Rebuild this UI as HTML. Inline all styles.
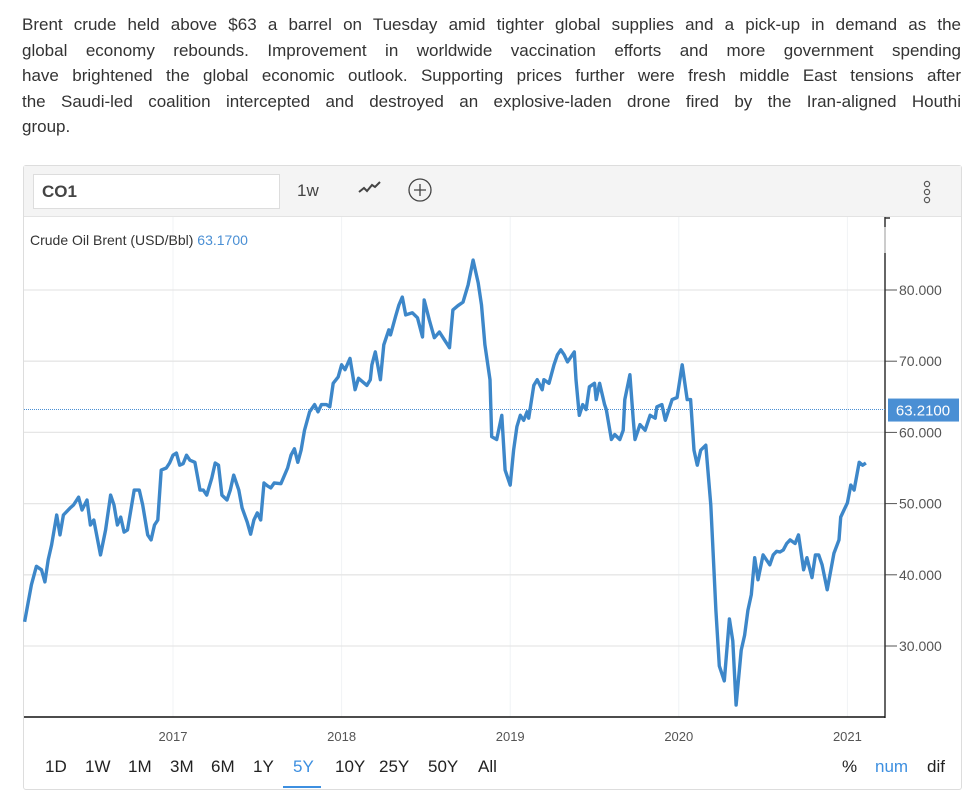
<!DOCTYPE html>
<html><head><meta charset="utf-8"><style>
body{margin:0;background:#fff;font-family:"Liberation Sans",sans-serif;width:977px;height:793px;overflow:hidden;position:relative}
#intro{position:absolute;left:22px;top:12px;width:939px;font-size:17px;line-height:25.5px;color:#333}
#intro div{text-align:justify;text-align-last:justify;white-space:nowrap}
#intro div:last-child{text-align-last:left}
#card{position:absolute;left:23px;top:165px;width:937px;height:623px;border:1px solid #ddd;border-radius:3px}
#toolbar{position:absolute;left:0;top:0;width:937px;height:50px;background:#f4f4f4;border-bottom:1px solid #e3e3e3}
#sym{position:absolute;left:9px;top:8px;width:247px;height:35px;box-sizing:border-box;background:#fff;border:1px solid #ddd;font-size:17px;font-weight:bold;color:#444;line-height:33px;padding-left:8px}
.tb{position:absolute;top:15px;font-size:17px;color:#444}
.rg{position:absolute;top:591px;font-size:17px;color:#222}
svg{position:absolute;left:0;top:0}
</style></head><body>
<div id="intro"><div>Brent crude held above $63 a barrel on Tuesday amid tighter global supplies and a pick-up in demand as the</div><div>global economy rebounds. Improvement in worldwide vaccination efforts and more government spending</div><div>have brightened the global economic outlook. Supporting prices further were fresh middle East tensions after</div><div>the Saudi-led coalition intercepted and destroyed an explosive-laden drone fired by the Iran-aligned Houthi</div><div>group.</div></div>
<div id="card">
<div id="toolbar">
<div id="sym">CO1</div>
<div class="tb" style="left:273px">1w</div>
<div class="tb" style="left:333px;top:12px"><svg width="26" height="20" style="position:static"><polyline points="2,14 7,10 10,13 15,7 18,9 23,4" fill="none" stroke="#444" stroke-width="2"/></svg></div>
<div class="tb" style="left:384px;top:12px"><svg width="26" height="26" style="position:static"><circle cx="12" cy="12" r="11" fill="none" stroke="#444" stroke-width="1.3"/><path d="M12 6v12M6 12h12" stroke="#444" stroke-width="1.3"/></svg></div>
<div class="tb" style="left:898px;top:14px"><svg width="10" height="26" style="position:static"><circle cx="5" cy="4" r="2.6" fill="none" stroke="#555" stroke-width="1.2"/><circle cx="5" cy="12" r="2.6" fill="none" stroke="#555" stroke-width="1.2"/><circle cx="5" cy="20" r="2.6" fill="none" stroke="#555" stroke-width="1.2"/></svg></div>
</div>
<span class="rg" style="left:21px">1D</span>
<span class="rg" style="left:61px">1W</span>
<span class="rg" style="left:104px">1M</span>
<span class="rg" style="left:146px">3M</span>
<span class="rg" style="left:187px">6M</span>
<span class="rg" style="left:229px">1Y</span>
<span class="rg" style="left:269px;color:#3d8fe0">5Y</span>
<div style="position:absolute;left:259px;top:620px;width:38px;height:2px;background:#3d8fe0"></div>
<span class="rg" style="left:311px">10Y</span>
<span class="rg" style="left:355px">25Y</span>
<span class="rg" style="left:404px">50Y</span>
<span class="rg" style="left:454px">All</span>
<span class="rg" style="left:818px">%</span>
<span class="rg" style="left:851px;color:#3d8fe0">num</span>
<span class="rg" style="left:903px">dif</span>
</div>
<svg id="chart" width="977" height="793"></svg>
<script>
const years=[2016.12,2016.16,2016.19,2016.22,2016.24,2016.26,2016.28,2016.31,2016.33,2016.35,2016.39,2016.41,2016.44,2016.46,2016.49,2016.51,2016.53,2016.57,2016.6,2016.63,2016.65,2016.67,2016.69,2016.71,2016.73,2016.77,2016.8,2016.82,2016.85,2016.87,2016.89,2016.91,2016.93,2016.96,2016.98,2017.0,2017.02,2017.04,2017.06,2017.08,2017.1,2017.13,2017.16,2017.18,2017.2,2017.23,2017.25,2017.27,2017.29,2017.32,2017.34,2017.36,2017.39,2017.41,2017.44,2017.46,2017.48,2017.5,2017.52,2017.54,2017.56,2017.58,2017.6,2017.64,2017.68,2017.7,2017.72,2017.74,2017.76,2017.78,2017.81,2017.84,2017.86,2017.88,2017.91,2017.93,2017.95,2017.98,2018.0,2018.02,2018.05,2018.08,2018.1,2018.15,2018.17,2018.18,2018.2,2018.23,2018.25,2018.28,2018.29,2018.32,2018.34,2018.36,2018.38,2018.42,2018.45,2018.48,2018.49,2018.52,2018.55,2018.58,2018.61,2018.64,2018.66,2018.69,2018.72,2018.75,2018.78,2018.81,2018.83,2018.85,2018.88,2018.89,2018.92,2018.95,2018.97,2019.0,2019.02,2019.04,2019.06,2019.08,2019.1,2019.11,2019.14,2019.16,2019.19,2019.2,2019.23,2019.26,2019.28,2019.3,2019.32,2019.34,2019.38,2019.39,2019.41,2019.43,2019.45,2019.47,2019.5,2019.51,2019.53,2019.56,2019.57,2019.6,2019.62,2019.65,2019.67,2019.68,2019.71,2019.73,2019.74,2019.77,2019.8,2019.83,2019.86,2019.87,2019.9,2019.92,2019.96,2019.99,2020.02,2020.05,2020.07,2020.09,2020.11,2020.13,2020.16,2020.19,2020.2,2020.22,2020.24,2020.27,2020.3,2020.32,2020.34,2020.37,2020.39,2020.41,2020.43,2020.45,2020.47,2020.5,2020.54,2020.56,2020.58,2020.6,2020.62,2020.64,2020.66,2020.69,2020.71,2020.74,2020.76,2020.79,2020.81,2020.83,2020.85,2020.88,2020.9,2020.92,2020.95,2020.96,2020.98,2021.0,2021.02,2021.04,2021.07,2021.09,2021.11];
const prices=[33.4,38.6,41.2,40.7,39.0,42.1,44.2,48.4,45.6,48.4,49.4,49.8,50.9,49.1,50.5,47,47.7,42.8,46.3,51.2,49.8,47,48.1,46,46.3,51.9,51.9,49.8,45.6,44.9,47,47.7,54.7,55,55.7,56.8,57.1,55.4,55.6,56.8,56.1,55.8,51.9,51.9,51.2,53.6,55.7,55.4,51.2,50.5,51.9,54,51.9,49.4,47.4,45.7,47.7,48.7,47.7,52.9,52.5,52.2,52.9,52.8,55,56.8,57.7,55.8,57.5,60.3,62.9,63.9,62.9,63.9,63.9,63.6,66.9,67.8,69.5,68.8,70.4,66,67.6,66.6,67.4,69.5,71.3,67.4,72.3,74.4,73.7,76.3,77.9,79,76.5,76.8,76.1,73.4,78.6,75.8,73.3,74.1,73,71.9,77.2,77.8,78.3,80.7,84.2,81,77.9,72.3,67.4,59.4,59,62.4,54.7,52.6,57.5,60.8,62.4,61.7,62.9,62,66.6,67.4,66,67.4,66.9,69.5,70.9,71.6,70.9,69.9,71.3,67.4,62.4,63.9,63.2,66.4,66.9,64.6,66.9,63.9,63.2,59,59.7,59,60.3,64.6,68.1,61.7,59,61.1,60.3,62.4,62,63.6,63.9,61.7,64.6,64.9,69.5,64.6,64.6,57.5,55.4,57.5,58.2,49.8,44.9,35,27.2,25.1,33.8,30.7,21.7,29.4,31.5,35,37.2,42.4,39.3,42.8,41.4,42.8,43.3,43.2,43.5,44.4,44.9,44.4,45.6,40.7,42.4,39.6,42.8,42.8,41.4,37.9,40.4,43,44.9,48.1,49.1,50.1,52.6,51.9,55.8,55.4,55.7,55.1,60.3,62.6,63.2];
const yTicks=[30,40,50,60,70,80];
const yTickLabels=["30.000","40.000","50.000","60.000","70.000","80.000"];
const xTicks=[2017,2018,2019,2020,2021];
const lastValue=63.21;
const NS="http://www.w3.org/2000/svg";
const svg=document.getElementById('chart');
const L=24,R=885,T=217,B=717;
const X=v=>173+(v-2017)*168.6;
const Y=v=>290+(80-v)*7.12;
function mk(t,a){const e=document.createElementNS(NS,t);for(const k in a)e.setAttribute(k,a[k]);svg.appendChild(e);return e;}
xTicks.forEach(t=>{const g=mk('line',{x1:X(t),x2:X(t),y1:T,y2:B,stroke:'#f0f3f5','stroke-width':1});


const tx=mk('text',{x:X(t),y:741,'text-anchor':'middle','font-size':13,fill:'#555','font-family':'Liberation Sans'});tx.textContent=t;

});
yTicks.forEach((t,i)=>{const g=mk('line',{x1:L,x2:R,y1:Y(t),y2:Y(t),stroke:'#e6e6e6','stroke-width':1.3});


mk('line',{x1:R,x2:R+12,y1:Y(t),y2:Y(t),stroke:'#555','stroke-width':1});
const tx=mk('text',{x:899,y:Y(t)+5,'font-size':14,fill:'#555','font-family':'Liberation Sans'});tx.textContent=yTickLabels[i];

});
const ax=mk('line',{x1:R,x2:R,y1:T,y2:B+1,stroke:'#333','stroke-width':1.5});


mk('line',{x1:R,x2:R+5,y1:T+1,y2:T+1,stroke:'#333','stroke-width':1.5});
mk('rect',{x:R-1,y:T+10,width:2,height:26,fill:'#ccc'});
const bx=mk('line',{x1:L,x2:R,y1:B,y2:B,stroke:'#111','stroke-width':1.5});


const dl=mk('line',{x1:L,x2:R,y1:Y(lastValue),y2:Y(lastValue),stroke:'#4a8fd4','stroke-width':1,'stroke-dasharray':'1,1'});


const pl=mk('polyline',{points:years.map((y,i)=>X(y).toFixed(1)+','+Y(prices[i]).toFixed(1)).join(' '),fill:'none',stroke:'#3d87c9','stroke-width':3.4,'stroke-linejoin':'round'});


const lb=mk('rect',{x:888,y:Y(lastValue)-11,width:71,height:23,fill:'#4a8fd4'});


const lt=mk('text',{x:923,y:Y(lastValue)+6,'text-anchor':'middle','font-size':15,fill:'#fff','font-family':'Liberation Sans'});lt.textContent=lastValue.toFixed(4);


const tt=mk('text',{x:30,y:245,'font-size':14,fill:'#333','font-family':'Liberation Sans'});
tt.innerHTML='Crude Oil Brent (USD/Bbl) <tspan fill="#4a8fd4">63.1700</tspan>';


</script>
</body></html>
